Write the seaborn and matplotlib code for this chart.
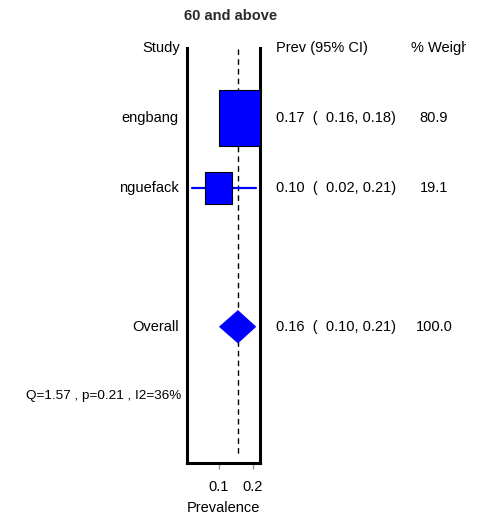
import numpy as np
import pandas as pd
import matplotlib
matplotlib.use('Agg')
import matplotlib.pyplot as plt
import matplotlib.patches as mpatches
import matplotlib.transforms as mtrans
import seaborn as sns

# data
studies = ['engbang', 'nguefack']
prev = [0.17, 0.10]
ci_lo = [0.16, 0.02]
ci_hi = [0.18, 0.21]
weights = [80.9, 19.1]
pooled = 0.156
pooled_lo = 0.10
pooled_hi = 0.21
het_text = 'Q=1.57 , p=0.21 , I2=36%'
title = '60 and above'

df = pd.DataFrame({'study': studies, 'prev': prev, 'lo': ci_lo, 'hi': ci_hi, 'weight': weights})
df['row'] = [1, 2]
overall_row = 4
het_row = 5

sns.set_style('white')
plt.rcParams['font.family'] = ['Liberation Sans', 'DejaVu Sans']
plt.rcParams['text.color'] = 'black'
plt.rcParams['xtick.color'] = 'black'
plt.rcParams['axes.labelcolor'] = 'black'

W, H = 478, 516
fig = plt.figure(figsize=(W / 100, H / 100), dpi=100)
ax = fig.add_axes([187 / W, 1 - 463 / H, 73 / W, 415 / H])

def fx(x):
    return x / W

blend = mtrans.blended_transform_factory(fig.transFigure, ax.transData)
fs = 10.5

# CI whiskers
long = pd.concat([
    pd.DataFrame({'study': df['study'], 'x': df['lo'], 'row': df['row']}),
    pd.DataFrame({'study': df['study'], 'x': df['hi'], 'row': df['row']}),
])
for s, g in long.groupby('study'):
    ax.plot(g['x'], g['row'], color='#0000FF', lw=1.6, zorder=2)

# weighted boxes
for _, r in df.iterrows():
    h = 0.14 * r['weight'] ** 0.4
    w = 0.0245 * r['weight'] ** 0.4
    ax.add_patch(mpatches.Rectangle((r['prev'] - w / 2, r['row'] - h / 2), w, h,
                                    facecolor='#0000FF', edgecolor='black', lw=0.8, zorder=3))

# pooled diamond
dh = 0.24
ax.add_patch(mpatches.Polygon([[pooled_lo, overall_row], [pooled, overall_row - dh],
                               [pooled_hi, overall_row], [pooled, overall_row + dh]],
                              closed=True, facecolor='#0000FF', edgecolor='none', zorder=3))

ax.plot([pooled, pooled], [0, 5.85], color='black', lw=1, ls=(0, (4, 3)), zorder=1)

ax.set_xlim(0.006, 0.221)
ax.set_ylim(5.96, -0.01)
ax.set_xticks([0.1, 0.2])
ax.set_xticklabels(['0.1', '0.2'], fontsize=fs)
ax.set_yticks([])
ax.tick_params(axis='x', direction='out', length=4.5, width=1, color='#999999', pad=8, bottom=True)
ax.set_xlabel('Prevalence', fontsize=fs, labelpad=5)
sns.despine(ax=ax, top=True, right=False, left=False, bottom=False)
for side in ['left', 'right', 'bottom']:
    ax.spines[side].set_linewidth(2.2)
    ax.spines[side].set_color('black')

# header
fig.text(fx(180), 1 - 48 / H, 'Study', ha='right', va='center', fontsize=fs)
fig.text(fx(276), 1 - 48 / H, 'Prev (95% CI)', ha='left', va='center', fontsize=fs)
wt = fig.text(fx(411), 1 - 48 / H, '% Weight', ha='left', va='center', fontsize=fs)
wt.set_clip_box(mtrans.Bbox.from_extents(0, 0, 466, H))
wt.set_clip_on(True)
fig.text(fx(231), 1 - 16 / H, title, ha='center', va='center', fontsize=10.5,
         fontweight='bold', color='#2a2a2a')

for _, r in df.iterrows():
    fig.text(fx(179), r['row'], r['study'], transform=blend, ha='right', va='center', fontsize=fs)
    fig.text(fx(276), r['row'], f"{r['prev']:.2f}  (  {r['lo']:.2f}, {r['hi']:.2f})",
             transform=blend, ha='left', va='center', fontsize=fs)
    fig.text(fx(434), r['row'], f"{r['weight']:.1f}", transform=blend, ha='center', va='center', fontsize=fs)

fig.text(fx(179), overall_row, 'Overall', transform=blend, ha='right', va='center', fontsize=fs)
fig.text(fx(276), overall_row, f"{pooled:.2f}  (  {pooled_lo:.2f}, {pooled_hi:.2f})",
         transform=blend, ha='left', va='center', fontsize=fs)
fig.text(fx(434), overall_row, f"{sum(weights):.1f}", transform=blend, ha='center', va='center', fontsize=fs)
fig.text(fx(181), het_row, het_text, transform=blend, ha='right', va='center', fontsize=9.7)

fig.savefig('out.png', dpi=100, facecolor='white')
